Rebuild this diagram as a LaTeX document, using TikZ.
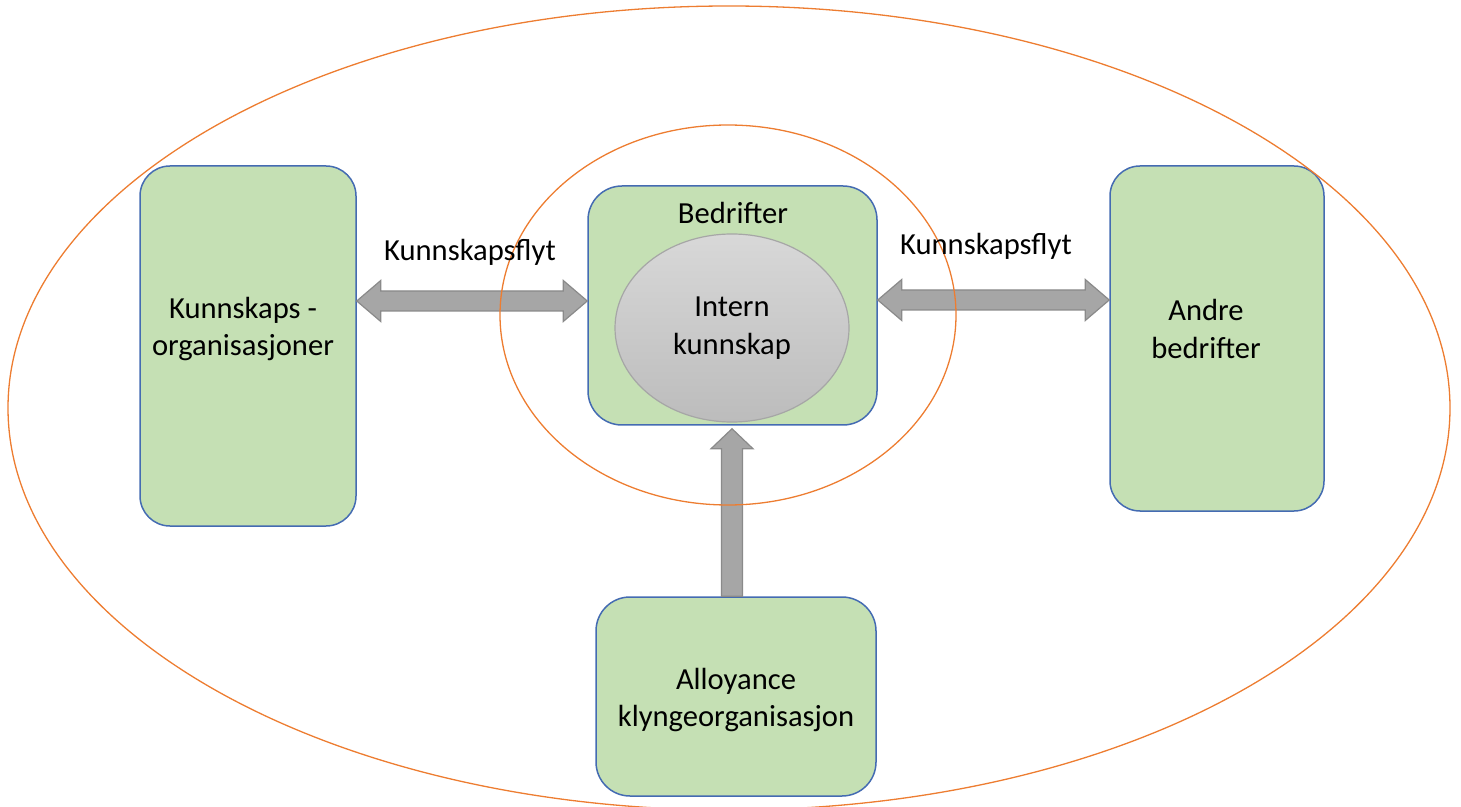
\documentclass[tikz,border=0pt]{standalone}
\usepackage{fontspec}
\setmainfont{Carlito}
\usepackage{tikz}
\usetikzlibrary{calc,shapes.geometric}
\definecolor{box green}{RGB}{197,224,180}
\definecolor{box blue}{RGB}{68,107,178}
\definecolor{ring orange}{RGB}{237,125,49}
\definecolor{flow gray}{RGB}{166,166,166}
\definecolor{flow edge}{RGB}{138,138,138}
\definecolor{core top}{RGB}{216,216,216}
\definecolor{core bottom}{RGB}{188,188,188}

\begin{document}
\begin{tikzpicture}[x=0.5pt, y=-0.5pt,
		font=\fontsize{15.3}{18.7}\selectfont,
		box/.style={draw=box blue, line width=0.75pt, fill=box green, inner sep=0pt},
		ring/.style={draw=ring orange, line width=0.65pt},
		flow/.style={fill=flow gray, draw=flow edge, line width=0.6pt, line join=miter},
		txt/.style={align=center, inner sep=0pt}]
			\useasboundingbox (0, 0) rectangle (1461, 807);
			% boxes
			\node[box, rounded corners=15pt, minimum width=108pt, minimum height=180pt]
				(orgs) at (248, 346) {};
			\node[box, rounded corners=17pt, minimum width=144.5pt, minimum height=119.5pt]
				(bedr) at (732.5, 305.5) {};
			\node[box, rounded corners=15pt, minimum width=107pt, minimum height=172.5pt]
				(andre) at (1217, 338.5) {};
			\node[box, rounded corners=17pt, minimum width=140pt, minimum height=99.5pt]
				(allo) at (736, 696.5) {};
			\node[ellipse, draw=flow gray, line width=0.6pt, top color=core top,
				bottom color=core bottom, minimum width=117pt, minimum height=94pt,
				inner sep=0pt, align=center] (core) at (732, 328) {Intern\\kunnskap};
			% flows
			\coordinate (l1) at (orgs.east |- 0, 301);
			\coordinate (l2) at (bedr.west |- 0, 301);
			\coordinate (r1) at (bedr.east |- 0, 300);
			\coordinate (r2) at (andre.west |- 0, 300);
			\coordinate (u1) at (allo.north -| 732, 0);
			\coordinate (u2) at ($(bedr.south -| 732, 0) + (0, 3)$);
			\filldraw[flow] (l1) -- ++(24, -20.5) -- ++(0, 10.5) -- ($(l2) + (-24, -10)$)
				-- ++(0, -10.5) -- (l2) -- ++(-24, 20.5) -- ++(0, -10.5)
				-- ($(l1) + (24, 10)$) -- ++(0, 10.5) -- cycle;
			\filldraw[flow] (r1) -- ++(24, -20.5) -- ++(0, 10.5) -- ($(r2) + (-24, -10)$)
				-- ++(0, -10.5) -- (r2) -- ++(-24, 20.5) -- ++(0, -10.5)
				-- ($(r1) + (24, 10)$) -- ++(0, 10.5) -- cycle;
			\filldraw[flow] ($(u1) + (-10.5, 0)$) -- ($(u2) + (-10.5, 20)$) -- ++(-10.5, 0)
				-- (u2) -- ++(21, 20) -- ++(-10.5, 0) -- ($(u1) + (10.5, 0)$) -- cycle;
			% rings
			\draw[ring] (729, 408) ellipse [x radius=721, y radius=402];
			\draw[ring] (728, 315) ellipse [x radius=228, y radius=190];
			% labels
			\node[txt] (bedrtext) at (733, 213) {Bedrifter};
			\node[txt] (orgstext) at (243, 329) {Kunnskaps -\\organisasjoner};
			\node[txt] (andretext) at (1206, 329) {Andre\\bedrifter};
			\node[txt] (allotext) at (736, 700) {Alloyance\\klyngeorganisasjon};
			\node[txt] (lflyt) at (470, 252) {Kunnskapsflyt};
			\node[txt] (rflyt) at (986, 246) {Kunnskapsflyt};
		\end{tikzpicture}
\end{document}
